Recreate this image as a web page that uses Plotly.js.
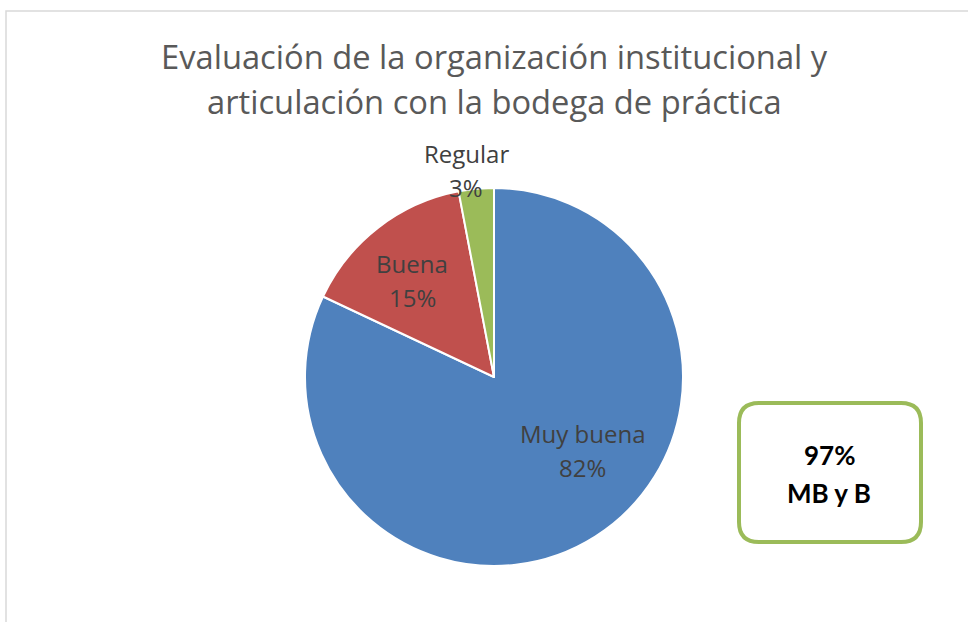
<!DOCTYPE html>
<html>
<head>
<meta charset="utf-8">
<script src="https://cdn.plot.ly/plotly-3.0.1.min.js"></script>
<style>html,body{margin:0;padding:0;background:#fff;}#chart{width:968px;height:622px;}</style>
</head>
<body>
<div id="chart"></div>
<script>
// Data
const categories = ["Muy buena", "Buena", "Regular"];
const values = [82, 15, 3];
const percentLabels = ["82%", "15%", "3%"];
const summaryValue = "97%";
const summaryLabel = "MB y B";
const titleLines = ["Evaluación de la organización institucional y", "articulación con la bodega de práctica"];

// Style / layout config
const colors = ["#4f81bd", "#c0504d", "#9bbb59"];
const W = 968, H = 622;
const cx = 494, cy = 377, R = 189;
const labelRadius = [0.61, 0.67, 1.105];
const labelAngleShift = [-18, -2.5, -2.3];
const labelLineGap = 34;
const px = x => x / W, py = y => 1 - y / H;
const labelFont = {family: '"Open Sans", Lato, sans-serif', size: 24, color: '#404040'};

// Compute label positions from data (clockwise from 12 o'clock)
const total = values.reduce((a, b) => a + b, 0);
let cum = 0;
const labelAnn = [];
values.forEach((v, i) => {
  const mid = (cum + v / 2) / total * 360 + labelAngleShift[i];
  cum += v;
  const a = mid * Math.PI / 180;
  const r = R * labelRadius[i];
  const lx = cx + r * Math.sin(a), ly = cy - r * Math.cos(a);
  [categories[i], percentLabels[i]].forEach((t, k) => {
    labelAnn.push({
      xref: 'paper', yref: 'paper',
      x: px(lx), y: py(ly + (k - 0.5) * labelLineGap),
      xanchor: 'center', yanchor: 'middle',
      text: t, showarrow: false, font: labelFont
    });
  });
});

// Title lines
const titleAnn = titleLines.map((t, k) => ({
  xref: 'paper', yref: 'paper', x: px(494), y: py(57 + k * 44),
  xanchor: 'center', yanchor: 'middle', text: t, showarrow: false,
  font: {family: '"Open Sans", Lato, sans-serif', size: 32.7, color: '#595959'}
}));

// Summary box text
const boxAnn = [summaryValue, summaryLabel].map((t, k) => ({
  xref: 'paper', yref: 'paper', x: px(829), y: py(455 + k * 38),
  xanchor: 'center', yanchor: 'middle', text: '<b>' + t + '</b>', showarrow: false,
  font: {family: 'Lato, "Open Sans", sans-serif', size: 26, color: '#000000'}
}));

// Rounded box path (paper coords)
function roundRect(x0, y0, x1, y1, r) {
  const P = (x, y) => px(x) + ',' + py(y);
  return 'M' + P(x0 + r, y0) + ' L' + P(x1 - r, y0) + ' Q' + P(x1, y0) + ' ' + P(x1, y0 + r) +
    ' L' + P(x1, y1 - r) + ' Q' + P(x1, y1) + ' ' + P(x1 - r, y1) +
    ' L' + P(x0 + r, y1) + ' Q' + P(x0, y1) + ' ' + P(x0, y1 - r) +
    ' L' + P(x0, y0 + r) + ' Q' + P(x0, y0) + ' ' + P(x0 + r, y0) + ' Z';
}

const trace = {
  type: 'pie',
  labels: categories,
  values: values,
  sort: false,
  direction: 'clockwise',
  rotation: 0,
  textinfo: 'none',
  hoverinfo: 'label+percent',
  marker: {colors: colors, line: {color: '#ffffff', width: 2}},
  domain: {x: [px(cx - R), px(cx + R)], y: [py(cy + R), py(cy - R)]},
  showlegend: false
};

const layout = {
  width: W, height: H,
  margin: {l: 0, r: 0, t: 0, b: 0},
  paper_bgcolor: '#ffffff',
  showlegend: false,
  annotations: titleAnn.concat(labelAnn, boxAnn),
  shapes: [
    {type: 'rect', xref: 'paper', yref: 'paper', x0: px(6), y0: py(11), x1: px(W + 5), y1: py(H + 5),
     line: {color: '#d9d9d9', width: 1.5}, fillcolor: 'rgba(0,0,0,0)'},
    {type: 'path', xref: 'paper', yref: 'paper', path: roundRect(739, 403, 921, 542, 20),
     line: {color: '#9bbb59', width: 4}, fillcolor: '#ffffff'}
  ]
};

Plotly.newPlot('chart', [trace], layout, {displayModeBar: false, staticPlot: true});
</script>
</body>
</html>
